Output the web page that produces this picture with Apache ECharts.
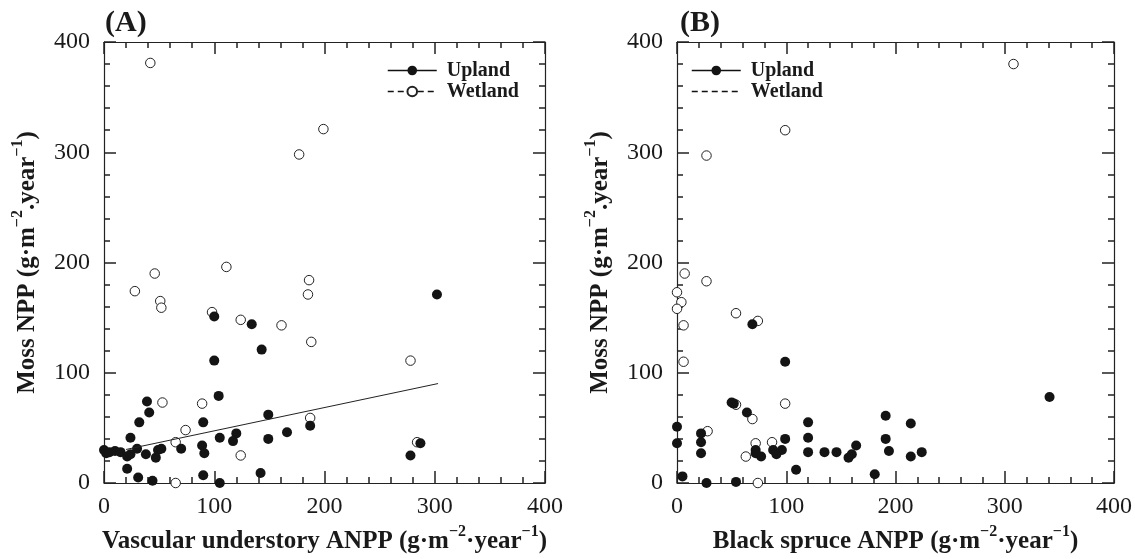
<!DOCTYPE html>
<html>
<head>
<meta charset="utf-8">
<script src="https://cdn.jsdelivr.net/npm/echarts@6/dist/echarts.min.js"></script>
<style>
html,body{margin:0;padding:0;background:#fff;}
#chart{width:1135px;height:559px;}
</style>
</head>
<body>
<div id="chart"></div>
<script>
// ---- data ----
var uplandA = [
  [302,171],[100,151],[134,144],[143,121],[100,111],[104,79],[39,74],[41,64],[32,55],[149,62],
  [90,55],[187,52],[166,46],[120,45],[24,41],[105,41],[149,40],[117,38],[89,34],[70,31],
  [91,27],[287,36],[278,25],[142,9],[90,7],[105,0],[44,2],[31,5],[21,13],
  [0,30],[2,27],[5,28],[10,29],[15,28],[21,24],[24,26],[30,31],[38,26],[47,23],[49,30],[52,31]
];
var wetlandA = [
  [42,381],[177,298],[199,321],[46,190],[111,196],[28,174],[186,184],[185,171],[51,165],[52,159],
  [98,155],[124,148],[161,143],[188,128],[278,111],[53,73],[89,72],[187,59],[74,48],[65,37],
  [284,37],[124,25],[65,0]
];
var trendA = [[20,30.4],[303,90.2]];
var uplandB = [
  [69,144],[99,110],[341,78],[50,73],[52,72],[64,64],[191,61],[120,55],[214,54],[0,51],
  [22,45],[22,37],[0,36],[120,41],[99,40],[191,40],[164,34],[22,27],[72,30],[72,27],
  [77,24],[88,30],[91,26],[96,30],[120,28],[135,28],[146,28],[157,23],[160,26],[194,29],
  [214,24],[224,28],[109,12],[181,8],[5,6],[27,0],[54,1]
];
var wetlandB = [
  [308,380],[99,320],[27,297],[7,190],[27,183],[0,173],[4,164],[0,158],[54,154],[74,147],
  [6,143],[6,110],[54,71],[99,72],[69,58],[28,47],[72,36],[87,37],[63,24],[74,0]
];
var axisTicks = [0,100,200,300,400];
var panelLabels = ['(A)','(B)'];
var xTitles = [
  '{t|Vascular understory ANPP (g·m}{s|−2}{t|·year}{s|−1}{t|)}',
  '{t|Black spruce ANPP (g·m}{s|−2}{t|·year}{s|−1}{t|)}'
];
var yTitle = '{t|Moss NPP (g·m}{s|−2}{t|.year}{s|−1}{t|)}';

// ---- styling ----
var SERIF = '"Liberation Serif","Times New Roman",serif';
var INK = '#1a1a1a';
var AX = '#222';

var titleRich = {
  t:{fontFamily:SERIF,fontWeight:'bold',fontSize:25,color:INK,lineHeight:30,verticalAlign:'bottom'},
  s:{fontFamily:SERIF,fontWeight:'bold',fontSize:16,color:INK,lineHeight:30,verticalAlign:'top'}
};

function frameAxis(gi, pos, withLabels, nameText, nameGap, labelMargin){
  var a = {
    gridIndex:gi, type:'value', min:axisTicks[0], max:axisTicks[axisTicks.length-1], interval:100,
    position:pos,
    axisLine:{show:true,onZero:false,lineStyle:{color:AX,width:1.2}},
    axisTick:{show:true,inside:true,length:12,lineStyle:{color:AX,width:1.5}},
    minorTick:{show:true,splitNumber:5,length:6,lineStyle:{color:AX,width:1.5}},
    splitLine:{show:false},
    axisLabel:{show:withLabels,fontFamily:SERIF,fontSize:24,color:INK,margin:labelMargin||12}
  };
  if (nameText){
    a.name = nameText; a.nameLocation = 'middle'; a.nameGap = nameGap;
    a.nameTextStyle = {rich:titleRich};
  }
  return a;
}

function pts(name, data, xi, yi, filled){
  return {
    name:name, type:'line', xAxisIndex:xi, yAxisIndex:yi, data:data,
    symbol:'circle', symbolSize: filled ? 10 : 9.5, showSymbol:true, showAllSymbol:true,
    lineStyle:{opacity:0,width:0}, z: filled ? 4 : 3,
    itemStyle: filled ? {color:'#141414',borderWidth:0}
                      : {color:'#ffffff',borderColor:'#222',borderWidth:1},
    emphasis:{disabled:true}, silent:true, clip:false
  };
}

var legendBase = {
  orient:'vertical', top:60, padding:0, itemGap:0, itemWidth:49, itemHeight:12,
  selectedMode:false,
  textStyle:{fontFamily:SERIF,fontWeight:'bold',fontSize:20,color:INK,lineHeight:21,padding:[0,0,0,5]},
  lineStyle:{color:'#111',width:1.5,opacity:1,type:'solid'}
};

var option = {
  backgroundColor:'#fff',
  animation:false,
  title:[
    {text:panelLabels[0],left:105,top:8,padding:0,textStyle:{fontFamily:SERIF,fontWeight:'bold',fontSize:30,color:INK}},
    {text:panelLabels[1],left:680,top:8,padding:0,textStyle:{fontFamily:SERIF,fontWeight:'bold',fontSize:30,color:INK}}
  ],
  grid:[
    {left:104,top:42,width:441,height:441},
    {left:677,top:42,width:442,height:441}
  ],
  xAxis:[
    frameAxis(0,'bottom',true,xTitles[0],40,12),
    frameAxis(0,'top',false),
    frameAxis(1,'bottom',true,xTitles[1],40,12),
    frameAxis(1,'top',false)
  ],
  yAxis:[
    frameAxis(0,'left',true,yTitle,64,14),
    frameAxis(0,'right',false),
    frameAxis(1,'left',true,yTitle,64,14),
    frameAxis(1,'right',false)
  ],
  legend:[
    Object.assign({},legendBase,{left:387,
      data:[{name:'Upland'},{name:'Wetland',lineStyle:{type:[6,4]}}]}),
    Object.assign({},legendBase,{left:691,
      data:[{name:'Upland'},{name:'Wetland',lineStyle:{type:[6,4]},itemStyle:{opacity:0}}]})
  ],
  series:[
    pts('Wetland',wetlandA,0,0,false),
    pts('Upland',uplandA,0,0,true),
    {name:'trendA',type:'line',xAxisIndex:0,yAxisIndex:0,data:trendA,symbol:'none',
     lineStyle:{color:'#222',width:1},z:5,silent:true},
    pts('Wetland',wetlandB,2,2,false),
    pts('Upland',uplandB,2,2,true)
  ]
};

var chart = echarts.init(document.getElementById('chart'),null,{renderer:'canvas'});
chart.setOption(option);
</script>
</body>
</html>
